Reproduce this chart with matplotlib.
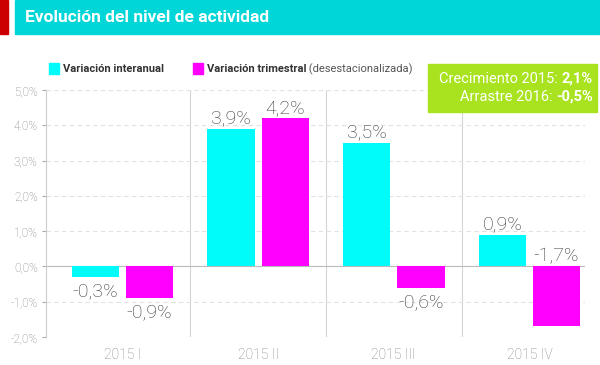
import matplotlib
matplotlib.use('Agg')
import matplotlib.pyplot as plt
from matplotlib.patches import Rectangle

# datos
trimestres = ['2015 I', '2015 II', '2015 III', '2015 IV']
interanual = [-0.3, 3.9, 3.5, 0.9]
trimestral = [-0.9, 4.2, -0.6, -1.7]
yticks = [-2, -1, 0, 1, 2, 3, 4, 5]
ytick_labels = ['-2,0%', '-1,0%', '0,0%', '1,0%', '2,0%', '3,0%', '4.0%', '5,0%']

titulo = 'Evolución del nivel de actividad'
serie1 = 'Variación interanual'
serie2 = ('Variación trimestral', ' (desestacionalizada)')
crecimiento = ('Crecimiento 2015: ', '2,1%')
arrastre = ('Arrastre 2016: ', '-0,5%')

CIAN = '#00fbfb'
MAGENTA = '#ff00ff'
VERDE = '#a9e21e'
GRIS = '#383838'

FUENTE = ['Roboto', 'DejaVu Sans']

fig = plt.figure(figsize=(6, 3.65), dpi=100)
W, H = 600, 365

def fx(px):
    return px / W

def fy(py):
    return 1 - py / H

# cabecera
fig.patches.append(Rectangle((0, fy(34)), fx(8), 34 / H, transform=fig.transFigure,
                             color='#cc0000', zorder=0))
fig.patches.append(Rectangle((fx(15), fy(34)), 1 - fx(15), 34 / H, transform=fig.transFigure,
                             color='#00d6d8', zorder=0))
fig.text(fx(25), fy(18), titulo, color='white', fontsize=12.5, fontweight='bold',
         family=FUENTE, va='center', ha='left')

ax = fig.add_axes([fx(46), fy(337), fx(585 - 46), 247 / H])
x = list(range(len(trimestres)))
ancho = 0.35
off = 0.2
ax.bar([i - off for i in x], interanual, ancho, color=CIAN, zorder=3)
ax.bar([i + off for i in x], trimestral, ancho, color=MAGENTA, zorder=3)

ax.set_xlim(-0.565, 3.41)
ax.set_ylim(-2, 5)
ax.set_yticks(yticks)
ax.set_yticklabels(ytick_labels, color='#808080', fontsize=8.5, family=FUENTE,
                   fontweight='light')
ax.set_xticks(x)
ax.set_xticklabels(trimestres, color='#808080', fontsize=10, family=FUENTE,
                   fontweight='light')
ax.tick_params(axis='x', length=0, pad=8)
ax.tick_params(axis='y', length=3, color='#aaaaaa', pad=3)
for s in ['top', 'right', 'bottom']:
    ax.spines[s].set_visible(False)
ax.spines['left'].set_color('#cccccc')
ax.yaxis.grid(True, linestyle=(0, (4, 3)), color='#e2e2e2', linewidth=0.8, zorder=0)
ax.axhline(0, color='#bbbbbb', linewidth=0.8, zorder=2)
for sep in [0.5, 1.5, 2.5]:
    ax.axvline(sep, color='#d5d5d5', linewidth=0.8, zorder=1)

def fmt(v):
    return f'{v:.1f}%'.replace('.', ',')

for serie, pos in [(interanual, -off), (trimestral, off)]:
    for i, v in enumerate(serie):
        if v >= 0 or (i == 3 and pos > 0):
            yy = max(v, 0)
            ax.annotate(fmt(v), (i + pos, yy), xytext=(0, 1), textcoords='offset points',
                        ha='center', va='bottom', fontsize=14, color=GRIS,
                        family=FUENTE, fontweight='light', zorder=4)
        else:
            ax.annotate(fmt(v), (i + pos, v), xytext=(0, -4), textcoords='offset points',
                        ha='center', va='top', fontsize=14, color=GRIS,
                        family=FUENTE, fontweight='light', zorder=4)

# leyenda
fig.patches.append(Rectangle((fx(49), fy(74)), fx(10), 11 / H, transform=fig.transFigure,
                             color=CIAN))
fig.patches.append(Rectangle((fx(193), fy(74)), fx(10), 11 / H, transform=fig.transFigure,
                             color=MAGENTA))
fig.text(fx(63), fy(69), serie1, fontsize=8, fontweight='bold', color='#333333',
         family=FUENTE, va='center')
t_b = fig.text(fx(207), fy(69), serie2[0], fontsize=8, fontweight='bold', color='#333333',
               family=FUENTE, va='center')

# recuadro verde
fig.patches.append(Rectangle((fx(428), fy(112)), 1 - fx(428) - fx(3), 48 / H,
                             transform=fig.transFigure, color=VERDE))
v1 = fig.text(fx(593), fy(79), crecimiento[1], fontsize=10.5, fontweight='bold', color='white',
              family=FUENTE, ha='right', va='center')
v2 = fig.text(fx(593), fy(97), arrastre[1], fontsize=10.5, fontweight='bold', color='white',
              family=FUENTE, ha='right', va='center')

fig.canvas.draw()
r = fig.canvas.get_renderer()
inv = fig.transFigure.inverted()
bb = t_b.get_window_extent(r)
fig.text(inv.transform((bb.x1, 0))[0], fy(69), serie2[1], fontsize=8, color='#555555',
         family=FUENTE, va='center')
for vt, lab, yy in [(v1, crecimiento[0], 79), (v2, arrastre[0], 97)]:
    bb = vt.get_window_extent(r)
    fig.text(inv.transform((bb.x0, 0))[0], fy(yy), lab, fontsize=10.5, color='white',
             family=FUENTE, ha='right', va='center')

fig.savefig('out.png', dpi=100)
